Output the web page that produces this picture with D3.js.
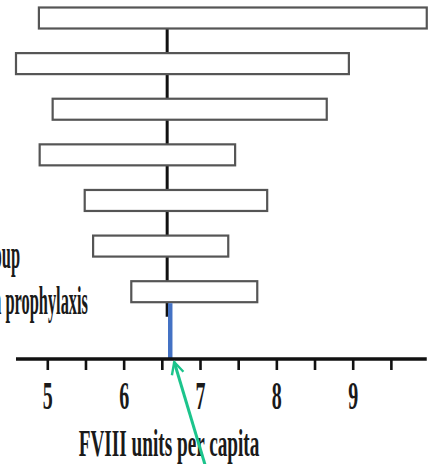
<!DOCTYPE html>
<html>
<head>
<meta charset="utf-8">
<script src="https://cdn.jsdelivr.net/npm/d3@7"></script>
<style>
  body { margin: 0; background: #fff; }
  svg { display: block; }
</style>
</head>
<body>
<svg width="433" height="464"></svg>
<script>
// tornado data, FVIII units per capita
const factors = ["Factor A", "Factor B", "Factor C", "Factor D", "Factor E", "Age group", "Proportion on prophylaxis"];
const lowValues = [4.89, 4.59, 5.07, 4.90, 5.49, 5.60, 6.10];
const highValues = [9.97, 8.95, 8.66, 7.46, 7.88, 7.37, 7.75];
const baseValue = 6.57;
const markerValue = 6.61;
const tickValues = [5, 5.5, 6, 6.5, 7, 7.5, 8, 8.5, 9, 9.5];
const axisExtent = [4.59, 9.97];

const svg = d3.select("svg");

// scales
const x = d3.scaleLinear().domain([5, 9]).range([47.3, 352.7]);
const y = d3.scalePoint().domain(factors).range([18, 291.7]);
const barH = 21;
const axisY = 359;
const serif = "Liberation Serif, Times New Roman, serif";

// center line behind the bars
svg.append("line")
    .attr("x1", x(baseValue)).attr("x2", x(baseValue))
    .attr("y1", y(factors[0])).attr("y2", y(factors[factors.length - 1]) + 25)
    .attr("stroke", "#111")
    .attr("stroke-width", 3);

// bars
svg.selectAll("rect.bar")
    .data(factors)
    .enter()
    .append("rect")
    .attr("class", "bar")
    .attr("x", (d, i) => x(lowValues[i]))
    .attr("y", d => y(d) - barH / 2)
    .attr("width", (d, i) => x(highValues[i]) - x(lowValues[i]))
    .attr("height", barH)
    .attr("fill", "#fff")
    .attr("stroke", "#555")
    .attr("stroke-width", 2.2);

// blue marker from last bar down to axis
svg.append("line")
    .attr("x1", x(markerValue)).attr("x2", x(markerValue))
    .attr("y1", y(factors[factors.length - 1]) + barH / 2 + 1)
    .attr("y2", axisY)
    .attr("stroke", "#4472c4")
    .attr("stroke-width", 4.5);

// category labels (cut off at the left edge as in the source figure)
const labelEnd = { "Age group": 20, "Proportion on prophylaxis": 88 };
svg.selectAll("g.lab")
    .data(factors.filter(f => labelEnd[f] !== undefined))
    .enter()
    .append("g")
    .attr("class", "lab")
    .attr("transform", d => `translate(${labelEnd[d]},${y(d) + 22}) scale(0.41,1)`)
    .append("text")
    .attr("text-anchor", "end")
    .attr("font-family", serif)
    .attr("font-weight", "bold")
    .attr("font-size", 40)
    .attr("fill", "#1a1a1a")
    .text(d => d);

// axis
const axis = svg.append("g")
    .attr("transform", `translate(0,${axisY})`)
    .call(d3.axisBottom(x)
        .tickValues(tickValues)
        .tickSize(11)
        .tickFormat(d => Number.isInteger(d) ? d : ""));

axis.select(".domain").remove();
axis.append("line")
    .attr("x1", x(axisExtent[0])).attr("x2", x(axisExtent[1]))
    .attr("stroke", "#111")
    .attr("stroke-width", 3.5);
axis.selectAll(".tick line")
    .attr("stroke", "#111")
    .attr("stroke-width", 2.6);
axis.selectAll(".tick text")
    .attr("y", 0)
    .attr("dy", 0)
    .attr("transform", "translate(0,50) scale(0.5,1)")
    .attr("font-family", serif)
    .attr("font-weight", "bold")
    .attr("font-size", 40)
    .attr("fill", "#1a1a1a");

// axis title
svg.append("g")
    .attr("transform", "translate(169,456) scale(0.52,1)")
    .append("text")
    .attr("text-anchor", "middle")
    .attr("font-family", serif)
    .attr("font-weight", "bold")
    .attr("font-size", 37)
    .attr("fill", "#1a1a1a")
    .text("FVIII units per capita");

// green annotation arrow pointing at the marker
svg.append("defs").append("marker")
    .attr("id", "head")
    .attr("viewBox", "0 0 10 10")
    .attr("refX", 9).attr("refY", 5)
    .attr("markerWidth", 5).attr("markerHeight", 5)
    .attr("markerUnits", "strokeWidth")
    .attr("orient", "auto")
    .append("path")
    .attr("d", "M1,1 L9,5 L1,9")
    .attr("fill", "none")
    .attr("stroke", "#1cc48c")
    .attr("stroke-width", 1.6);

svg.append("line")
    .attr("x1", x(markerValue) + 37).attr("y1", 472)
    .attr("x2", x(markerValue) + 4).attr("y2", axisY + 3)
    .attr("stroke", "#1cc48c")
    .attr("stroke-width", 3)
    .attr("marker-end", "url(#head)");
</script>
</body>
</html>
